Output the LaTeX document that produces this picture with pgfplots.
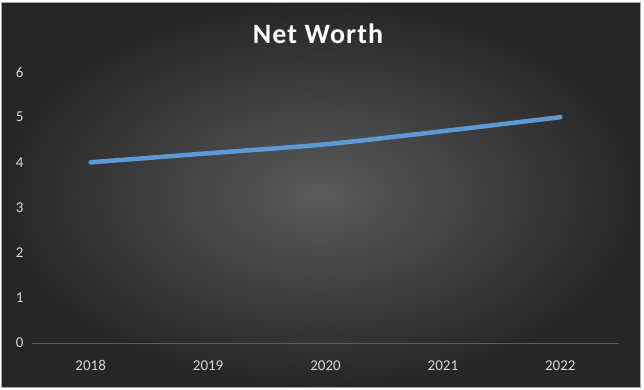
\documentclass[border=0pt]{standalone}
\usepackage{pgfplots}
\pgfplotsset{compat=1.18}
\usepackage{fontspec}
\setmainfont{Carlito}
\definecolor{tickc}{RGB}{217,217,217}
\definecolor{linec}{RGB}{91,155,213}
\definecolor{basec}{RGB}{92,92,92}
\definecolor{bgin}{RGB}{90,90,90}
\definecolor{bgout}{RGB}{38,38,38}
\begin{document}
\begin{tikzpicture}[x=1pt,y=1pt]
\useasboundingbox (0,0) rectangle (644,389);
\fill[white] (0,0) rectangle (644,389);
\shade[inner color=bgin, outer color=bgout] (1,2) rectangle (640,386);
\draw[gray!70, line width=1pt] (1,2) rectangle (640,386);
\node[font=\bfseries\fontsize{28}{32}\selectfont\addfontfeature{LetterSpace=4}, text=white] at (318,355) {Net Worth};
\begin{axis}[
  at={(32pt,46pt)}, anchor=south west,
  scale only axis, width=587pt, height=271pt,
  xmin=-0.5, xmax=4.5, ymin=0, ymax=6,
  xtick={0,1,2,3,4}, xticklabels={2018,2019,2020,2021,2022},
  ytick={0,1,2,3,4,5,6},
  major tick length=0pt,
  axis x line*=bottom, axis y line*=left,
  x axis line style={draw=basec, line width=0.8pt, -},
  y axis line style={draw=none},
  tick label style={text=tickc, font=\fontsize{15}{18}\selectfont},
  /pgf/number format/assume math mode=true,
  yticklabel style={xshift=-5pt},
  xticklabel style={yshift=-14pt},
  clip=false,
]
\addplot[linec, line width=4.5pt, line cap=round, smooth] coordinates {
  (0,4.0) (1,4.2) (2,4.4) (3,4.69) (4,5.0)
};
\end{axis}
\end{tikzpicture}
\end{document}
